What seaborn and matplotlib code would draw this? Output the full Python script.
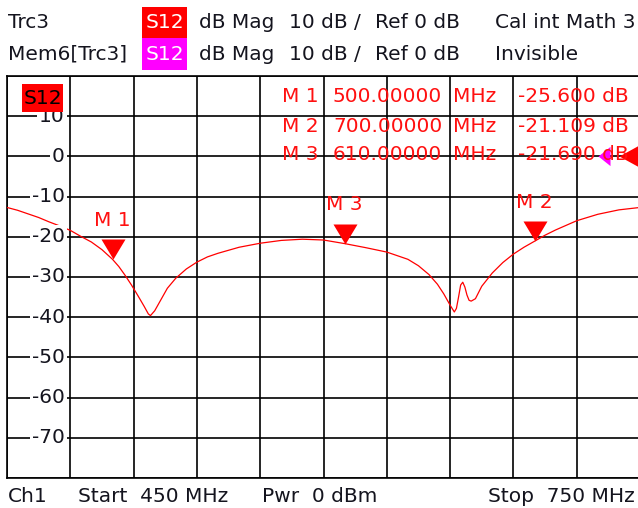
import numpy as np
import matplotlib
matplotlib.use("Agg")
import matplotlib.pyplot as plt
from matplotlib.patches import Rectangle
import seaborn as sns

# trace data
freq_mhz = [450, 455, 460, 465, 470, 475, 480, 485, 490, 495, 500, 503, 506, 509,
            512, 515, 517, 518, 520, 523, 526, 530, 535, 540, 545, 550, 560, 570,
            580, 590, 600, 610, 620, 630, 640, 645, 650, 654, 657, 660, 662, 663,
            664, 665, 666, 667, 668, 669, 670, 672, 675, 680, 685, 690, 695, 700,
            705, 710, 720, 730, 740, 750]
s12_db = [-12.7, -13.4, -14.3, -15.2, -16.3, -17.3, -18.4, -19.9, -21.3, -23.2, -25.6,
          -27.4, -29.6, -32.0, -34.6, -37.3, -39.2, -39.6, -38.4, -35.6, -32.8, -30.3,
          -28.0, -26.3, -25.0, -24.1, -22.6, -21.6, -20.9, -20.6, -20.8, -21.69, -22.7,
          -23.8, -25.6, -27.2, -29.4, -31.8, -34.2, -37.0, -38.7, -37.8, -35.0, -32.0,
          -31.3, -32.5, -34.5, -35.8, -36.0, -35.4, -32.3, -29.0, -26.4, -24.3, -22.6,
          -21.109, -19.6, -18.3, -16.0, -14.4, -13.3, -12.7]

marker_names = ["M 1", "M 2", "M 3"]
marker_freq = [500.0, 700.0, 610.0]
marker_db = [-25.600, -21.109, -21.690]

y_ticks = [10, 0, -10, -20, -30, -40, -50, -60, -70]

W, H = 638, 508
RED = "#ff1010"
TXT = "#14141e"
FS = 14.5

sns.set_style("white")
plt.rcParams["font.family"] = ["DejaVu Sans"]

fig = plt.figure(figsize=(W / 100, H / 100), dpi=100)
ax = fig.add_axes([7 / W, 30 / H, 633 / W, 402 / H])


def fx(x):
    return x / W


def fy(y):
    return 1 - y / H


sns.lineplot(x=freq_mhz, y=s12_db, ax=ax, color="red", linewidth=0.9, zorder=3)

ax.set_xlim(450, 750)
ax.set_ylim(-80, 20)
ax.set_xticks(np.arange(450, 751, 30))
ax.set_yticks(np.arange(-80, 21, 10))
ax.tick_params(length=0, labelbottom=False, labelleft=False)
ax.grid(True, color="black", linewidth=1.2)
ax.set_xlabel("")
ax.set_ylabel("")
for sp in ax.spines.values():
    sp.set_color("black")
    sp.set_linewidth(1.2)

# y scale labels inside the grid
ytr = ax.get_yaxis_transform()
for v in y_ticks:
    ax.text(58 / 633, v, str(v), transform=ytr, ha="right", va="center",
            fontsize=FS, color=TXT, zorder=4,
            bbox=dict(facecolor="white", edgecolor="none", pad=1.5))

# markers on the trace
tri_down = [(-0.6, 1), (0.6, 1), (0, 0)]
ax.plot(marker_freq, marker_db, linestyle="none", marker=tri_down,
        markersize=28.8, color="red", markeredgewidth=0, zorder=5)
for name, f, v in zip(marker_names, marker_freq, marker_db):
    ax.annotate(name, (f, v), xytext=(0, 28), textcoords="offset points",
                ha="center", va="center", fontsize=FS, color=RED, zorder=5)

# reference level arrows on the right
ax.plot([(598 - 7) / 633], [0], transform=ytr, linestyle="none",
        marker=[(0, 0), (1, 0.8), (1, -0.8)], markersize=17.3, color="#ff00ff",
        markeredgewidth=0, clip_on=False, zorder=6)
ax.plot([(619 - 7) / 633], [0], transform=ytr, linestyle="none",
        marker=[(0, 0), (1, 0.55), (1, -0.55)], markersize=39, color="red",
        markeredgewidth=0, clip_on=False, zorder=7)

# marker table
rows_y = [97, 126, 155]
for name, f, v, yy in zip(marker_names, marker_freq, marker_db, rows_y):
    fig.text(fx(282), fy(yy), name, ha="left", va="center", fontsize=FS, color=RED)
    fig.text(fx(333), fy(yy), f"{f:.5f}", ha="left", va="center", fontsize=FS, color=RED)
    fig.text(fx(453), fy(yy), "MHz", ha="left", va="center", fontsize=FS, color=RED)
    fig.text(fx(518), fy(yy), f"{v:.3f} dB", ha="left", va="center", fontsize=FS, color=RED)

# trace label box inside the grid
fig.add_artist(Rectangle((fx(22), fy(112)), 41 / W, 28 / H, facecolor="red",
                         edgecolor="none", zorder=10))
fig.text(fx(42.5), fy(98), "S12", ha="center", va="center", fontsize=FS,
         color="black", zorder=11)

# header lines
fig.add_artist(Rectangle((fx(142), fy(38)), 45 / W, 31 / H, facecolor="#ff0000",
                         edgecolor="none"))
fig.add_artist(Rectangle((fx(142), fy(70)), 45 / W, 32 / H, facecolor="#ff00ff",
                         edgecolor="none"))
for yy, first, last in [(23, "Trc3", "Cal int Math 3"), (54, "Mem6[Trc3]", "Invisible")]:
    fig.text(fx(8), fy(yy), first, ha="left", va="center", fontsize=FS, color=TXT)
    fig.text(fx(164.5), fy(yy), "S12", ha="center", va="center", fontsize=FS,
             color="white", zorder=5)
    fig.text(fx(199), fy(yy), "dB Mag", ha="left", va="center", fontsize=FS, color=TXT)
    fig.text(fx(289), fy(yy), "10 dB /", ha="left", va="center", fontsize=FS, color=TXT)
    fig.text(fx(375), fy(yy), "Ref 0 dB", ha="left", va="center", fontsize=FS, color=TXT)
    fig.text(fx(495), fy(yy), last, ha="left", va="center", fontsize=FS, color=TXT)

# footer
fig.text(fx(8), fy(497), "Ch1", ha="left", va="center", fontsize=FS, color=TXT)
fig.text(fx(78), fy(497), "Start  450 MHz", ha="left", va="center", fontsize=FS, color=TXT)
fig.text(fx(262), fy(497), "Pwr  0 dBm", ha="left", va="center", fontsize=FS, color=TXT)
fig.text(fx(488), fy(497), "Stop  750 MHz", ha="left", va="center", fontsize=FS, color=TXT)

fig.savefig("out.png", dpi=100)
